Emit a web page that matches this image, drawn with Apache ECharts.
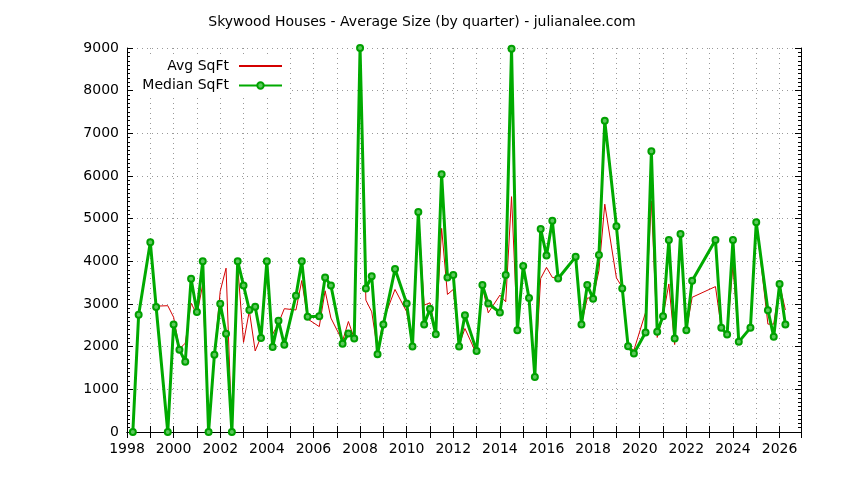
<!DOCTYPE html>
<html>
<head>
<meta charset="utf-8">
<script src="https://cdn.jsdelivr.net/npm/echarts@6/dist/echarts.min.js"></script>
<style>
	html, body { margin: 0; padding: 0; background: #fff; }
	#chart { width: 844px; height: 480px; }
</style>
</head>
<body>
<div id="chart"></div>
<script>
// quarter (decimal year), missing quarters are left out so the line joins across them
var quarters = [1998.25, 1998.5, 1999.0, 1999.25, 1999.75, 2000.0, 2000.25, 2000.5, 2000.75, 2001.0,
	2001.25, 2001.5, 2001.75, 2002.0, 2002.25, 2002.5, 2002.75, 2003.0, 2003.25, 2003.5,
	2003.75, 2004.0, 2004.25, 2004.5, 2004.75, 2005.25, 2005.5, 2005.75, 2006.25, 2006.5,
	2006.75, 2007.25, 2007.5, 2007.75, 2008.0, 2008.25, 2008.5, 2008.75, 2009.0, 2009.5,
	2010.0, 2010.25, 2010.5, 2010.75, 2011.0, 2011.25, 2011.5, 2011.75, 2012.0, 2012.25,
	2012.5, 2013.0, 2013.25, 2013.5, 2014.0, 2014.25, 2014.5, 2014.75, 2015.0, 2015.25,
	2015.5, 2015.75, 2016.0, 2016.25, 2016.5, 2017.25, 2017.5, 2017.75, 2018.0, 2018.25,
	2018.5, 2019.0, 2019.25, 2019.5, 2019.75, 2020.25, 2020.5, 2020.75, 2021.0, 2021.25,
	2021.5, 2021.75, 2022.0, 2022.25, 2023.25, 2023.5, 2023.75, 2024.0, 2024.25, 2024.75,
	2025.0, 2025.5, 2025.75, 2026.0, 2026.25];

var avgSqft = [0, 2750, 4450, 2950, 2960, 2690, 1950, 2080, 3020, 2750,
	3460, 0, 1810, 3300, 3840, 0, 3900, 2100, 2840, 1900,
	2230, 3700, 2290, 2550, 2890, 2860, 3550, 2650, 2470, 3310,
	2670, 2130, 2590, 2190, 9000, 3090, 2817, 1917, 2621, 3341,
	2817, 2034, 5156, 2973, 3028, 2308, 4773, 3224, 3341, 2034,
	2426, 1823, 3404, 2793, 3208, 3052, 5516, 2387, 3870, 3106,
	1291, 3599, 3858, 3623, 3599, 4105, 2520, 3140, 3140, 3784,
	5340, 3612, 3392, 2011, 1917, 2800, 5416, 2216, 2715, 3470,
	2050, 4640, 2387, 3157, 3408, 2441, 2285, 3900, 2113, 2441,
	4914, 2529, 2529, 3470, 2860];

var medianSqft = [0, 2750, 4450, 2930, 0, 2520, 1930, 1645, 3590, 2815,
	4000, 0, 1810, 3005, 2305, 0, 4000, 3435, 2860, 2935,
	2205, 4000, 1995, 2610, 2045, 3195, 4000, 2700, 2715, 3620,
	3435, 2070, 2310, 2190, 9000, 3365, 3650, 1823, 2520, 3818,
	3013, 2003, 5156, 2520, 2887, 2293, 6041, 3623, 3678, 2003,
	2739, 1901, 3443, 3013, 2801, 3678, 8983, 2387, 3889, 3138,
	1291, 4757, 4139, 4953, 3599, 4105, 2520, 3443, 3125, 4147,
	7293, 4820, 3365, 2011, 1839, 2332, 6581, 2347, 2715, 4499,
	2191, 4640, 2387, 3545, 4499, 2441, 2285, 4499, 2113, 2441,
	4914, 2856, 2230, 3466, 2520];

var xMin = 1998, xMax = 2026.92;
var yMin = 0, yMax = 9000;

function pairs(xs, ys) {
	var out = [];
	for (var i = 0; i < xs.length; i++) {
		out.push([xs[i], ys[i]]);
	}
	return out;
}

var FONT = 'DejaVu Sans';
var RED = '#d40000', GREEN = '#00aa00';
var chart = echarts.init(document.getElementById('chart'));

var gridDots = { show: true, lineStyle: { color: '#999', width: 1, type: [1, 4] } };

var option = {
	animation: false,
	backgroundColor: '#fff',
	textStyle: { fontFamily: FONT },
	title: {
		text: 'Skywood Houses - Average Size (by quarter) - julianalee.com',
		left: 'center',
		top: 10,
		textStyle: { fontFamily: FONT, fontSize: 14, fontWeight: 'normal', color: '#000' }
	},
	grid: { left: 127, right: 43, top: 48, bottom: 48 },
	// key box is opaque in the original, covers the grid lines behind it
	graphic: [{
		type: 'rect',
		left: 134, top: 55,
		shape: { width: 156, height: 41 },
		style: { fill: '#fff' },
		z: 1
	}],
	legend: [{
		data: ['Avg SqFt'],
		orient: 'vertical',
		align: 'right',
		right: 561, top: 59,
		padding: 0,
		itemWidth: 43, itemHeight: 14,
		itemStyle: { opacity: 0 },
		textStyle: { fontFamily: FONT, fontSize: 14, color: '#000', padding: [0, 5, 0, 0] }
	}, {
		data: ['Median SqFt'],
		orient: 'vertical',
		align: 'right',
		right: 561, top: 78.5,
		padding: 0,
		itemWidth: 43, itemHeight: 8,
		textStyle: { fontFamily: FONT, fontSize: 14, color: '#000', padding: [0, 5, 0, 0] }
	}],
	xAxis: [{
		type: 'value',
		min: xMin, max: xMax, interval: 1,
		axisLine: { show: true, lineStyle: { color: '#000', width: 1 } },
		axisTick: { show: true, inside: true, length: 6, lineStyle: { color: '#000' } },
		axisLabel: {
			margin: 10,
			color: '#000', fontFamily: FONT, fontSize: 14,
			formatter: function(v) {
				return (Math.abs(v - Math.round(v)) < 1e-6 && Math.round(v) % 2 === 0) ? String(Math.round(v)) : '';
			}
		},
		splitLine: gridDots
	}, {
		type: 'value',
		position: 'top',
		min: xMin, max: xMax, interval: 1,
		axisLine: { show: true, lineStyle: { color: '#000', width: 1 } },
		axisTick: { show: true, inside: true, length: 6, lineStyle: { color: '#000' } },
		axisLabel: { show: false },
		splitLine: { show: false }
	}],
	yAxis: [{
		type: 'value',
		min: yMin, max: yMax, interval: 1000,
		axisLine: { show: true, lineStyle: { color: '#000', width: 1 } },
		axisTick: { show: true, inside: true, length: 6, lineStyle: { color: '#000' } },
		minorTick: { show: true, splitNumber: 10, length: 3, lineStyle: { color: '#000' } },
		axisLabel: {
			margin: 8, color: '#000', fontFamily: FONT, fontSize: 14,
			formatter: function(v) { return String(v); }
		},
		splitLine: gridDots
	}, {
		type: 'value',
		position: 'right',
		min: yMin, max: yMax, interval: 1000,
		axisLine: { show: true, lineStyle: { color: '#000', width: 1 } },
		axisTick: { show: true, inside: true, length: 6, lineStyle: { color: '#000' } },
		minorTick: { show: true, splitNumber: 10, length: 3, lineStyle: { color: '#000' } },
		axisLabel: { show: false },
		splitLine: { show: false }
	}],
	series: [{
		name: 'Avg SqFt',
		type: 'line',
		xAxisIndex: 0, yAxisIndex: 0,
		data: pairs(quarters, avgSqft),
		symbol: 'none',
		color: RED,
		lineStyle: { color: RED, width: 1 },
		z: 2
	}, {
		name: 'Median SqFt',
		type: 'line',
		xAxisIndex: 0, yAxisIndex: 0,
		data: pairs(quarters, medianSqft),
		symbol: 'circle',
		symbolSize: 6,
		color: GREEN,
		lineStyle: { color: GREEN, width: 3 },
		itemStyle: { color: '#5cc85c', borderColor: '#00a000', borderWidth: 2 },
		z: 3
	}]
};

chart.setOption(option);
</script>
</body>
</html>
